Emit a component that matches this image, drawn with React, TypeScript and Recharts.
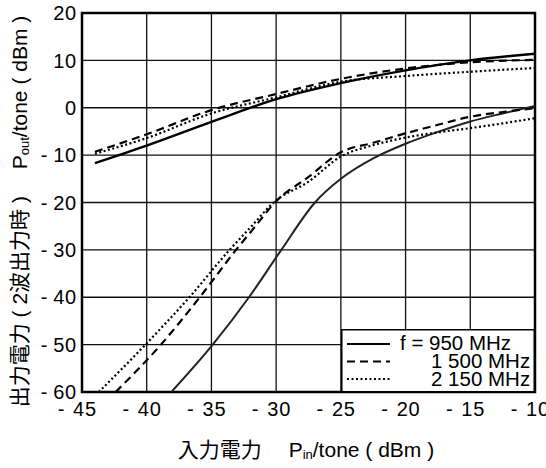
import { LineChart, Line, XAxis, YAxis, CartesianGrid, ReferenceArea, Legend, Label } from 'recharts';

// input power grid (dBm) and the three fundamental output curves
const pinFund = [-44, -40, -35, -30, -25, -20, -15, -10];
const fund950 = [-11.7, -8.0, -3.0, 1.8, 5.2, 7.9, 10.0, 11.4];
const fund1500 = [-9.3, -5.6, -0.5, 2.9, 6.1, 8.3, 9.6, 10.1];
const fund2150 = [-9.7, -6.4, -1.2, 2.2, 5.5, 6.7, 7.6, 8.4];

// lower curves (2-tone products)
const im950X = [-38.1, -34.9, -32.1, -29.6, -27.0, -25, -22.5, -20, -17.5, -15, -12.5, -10];
const im950Y = [-60, -50, -40, -30, -20, -15.0, -10.7, -7.6, -5.1, -2.9, -1.2, 0.4];
const im1500X = [-42.4, -38.9, -35.9, -33.1, -31.6, -30.1, -27.5, -25, -22.5, -20, -17.5, -15, -12.5, -10];
const im1500Y = [-60, -50, -40, -30, -25, -20, -14.6, -9.4, -7.4, -5.4, -3.6, -1.9, -0.9, -0.1];
const im2150X = [-43.7, -40.1, -36.7, -33.6, -31.9, -30.2, -27.5, -25, -22.5, -20, -17.5, -15, -12.5, -10];
const im2150Y = [-60, -50, -40, -30, -25, -20, -15.6, -10.3, -7.9, -6.3, -5.2, -4.3, -3.3, -2.2];

const xTicks = [-45, -40, -35, -30, -25, -20, -15, -10];
const yTicks = [-60, -50, -40, -30, -20, -10, 0, 10, 20];
const legendNames = ['f = 950 MHz', '1 500 MHz', '2 150 MHz'];

const FONT = '"Liberation Sans", "Noto Sans CJK JP", Arial, sans-serif';
const DASH = '8 5';
const DOT = '2 2.5';

const toPoints = (xs: number[], ys: number[]) => xs.map((x, i) => ({ x, y: ys[i] }));

const series = [
  { id: 'f950', data: toPoints(pinFund, fund950), dash: undefined, w: 2.4, color: '#000' },
  { id: 'f1500', data: toPoints(pinFund, fund1500), dash: DASH, w: 2.2, color: '#000' },
  { id: 'f2150', data: toPoints(pinFund, fund2150), dash: DOT, w: 2.2, color: '#000' },
  { id: 'i950', data: toPoints(im950X, im950Y), dash: undefined, w: 2, color: '#222' },
  { id: 'i1500', data: toPoints(im1500X, im1500Y), dash: DASH, w: 2.2, color: '#000' },
  { id: 'i2150', data: toPoints(im2150X, im2150Y), dash: DOT, w: 2.2, color: '#000' },
];

const tickFont = { fontSize: 20, fontFamily: FONT, fill: '#000' };

// "- 40" style: minus sign set apart from the digits
const XTick = ({ x, y, payload }: any) => (
  <g>
    {Number(payload.value) < 0 && <text x={x - 21} y={y} dy="0.71em" textAnchor="middle" {...tickFont}>-</text>}
    <text x={x + 3} y={y} dy="0.71em" textAnchor="middle" letterSpacing={0.8} {...tickFont}>{Math.abs(payload.value)}</text>
  </g>
);

const YTick = ({ x, y, payload }: any) => (
  <g>
    {Number(payload.value) < 0 && (
      <text x={Number(x) - 33} y={y} dy="0.36em" textAnchor="middle" {...tickFont}>-</text>
    )}
    <text x={x} y={y} dy="0.36em" textAnchor="end" letterSpacing={0.8} {...tickFont}>{Math.abs(payload.value)}</text>
  </g>
);

const YTitle = ({ viewBox }: any) => {
  const cy = viewBox.y + viewBox.height / 2 + 9;
  return (
    <text transform={`translate(27, ${cy}) rotate(-90)`} textAnchor="middle" fontSize={21} fontFamily={FONT} fill="#000">
      出力電力 ( 2波出力時 )　 P<tspan fontSize={13} dy={2}>out</tspan><tspan dy={-2}>/tone ( dBm )</tspan>
    </text>
  );
};

const XTitle = () => (
  <text x={306} y={457} textAnchor="middle" fontSize={21} fontFamily={FONT} fill="#000">
    入力電力　 P<tspan fontSize={13} dy={2}>in</tspan><tspan dy={-2}>/tone ( dBm )</tspan>
  </text>
);

const legendStyles = [
  { dash: undefined },
  { dash: DASH },
  { dash: DOT },
];

const renderLegend = () => (
  <svg width={195} height={64} style={{ display: 'block' }}>
    <rect x={0.75} y={0.75} width={192.5} height={62} fill="#fff" stroke="#000" strokeWidth={1.5} />
    {legendNames.map((name, i) => (
      <g key={name}>
        <line x1={6} x2={49} y1={15 + i * 17.5} y2={15 + i * 17.5} stroke="#000" strokeWidth={2.2} strokeDasharray={legendStyles[i].dash} />
        <text x={i === 0 ? 59 : 90} y={21 + i * 17.8} fontSize={20.5} fontFamily={FONT} fill="#000">{name}</text>
      </g>
    ))}
  </svg>
);

export default function App() {
  return (
    <div style={{ position: 'absolute', left: 0, top: 0, background: '#fff' }}>
      <LineChart width={546} height={468} margin={{ top: 13, right: 11, left: 22, bottom: 46 }}>
        <CartesianGrid stroke="#111" strokeWidth={1.3} />
        <XAxis dataKey="x" type="number" domain={[-45, -10]} ticks={xTicks} allowDataOverflow
          axisLine={false} tickLine={false} tickSize={0} tickMargin={10} tick={<XTick />} interval={0}>
          <Label content={<XTitle />} />
        </XAxis>
        <YAxis type="number" domain={[-60, 20]} ticks={yTicks} allowDataOverflow width={60}
          axisLine={false} tickLine={false} tickSize={0} tickMargin={5} tick={<YTick />} interval={0}>
          <Label content={<YTitle />} />
        </YAxis>
        {series.map((s) => (
          <Line key={s.id} data={s.data} dataKey="y" type="monotone" stroke={s.color} strokeWidth={s.w}
            strokeDasharray={s.dash} dot={false} activeDot={false} isAnimationActive={false} legendType="none" />
        ))}
        <ReferenceArea x1={-45} x2={-10} y1={-60} y2={20} fill="none" stroke="#000" strokeWidth={2.5} ifOverflow="visible" />
        <Legend content={renderLegend} layout="vertical" align="center" verticalAlign="middle"
          wrapperStyle={{ left: 341, top: 329, width: 195, height: 64 }} />
      </LineChart>
    </div>
  );
}
